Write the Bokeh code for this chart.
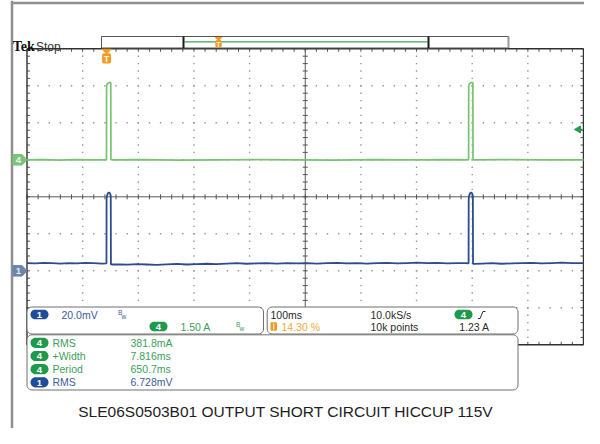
import math
from bokeh.plotting import figure
from bokeh.models import Range1d
from bokeh.core.properties import value
from bokeh.embed import file_html
from bokeh.resources import INLINE

# ---------------- data ----------------
TIME_PER_DIV_MS = 100.0
TRIGGER_POS_PCT = 14.30
CH4_A_PER_DIV = 1.50
CH1_MV_PER_DIV = 20.0
CH4_GND_DIV = 1.0
CH1_GND_DIV = -2.0
TRIG_LEVEL_A = 1.23

ch4_time_ms = [
    -143, -115, -85, -55, -25, -0.2,
    0.0, 0.6, 2.5, 5.0, 7.5,
    7.816, 9.0, 60, 130, 200, 270, 340, 410, 480, 550, 620, 650.5,
    650.7, 651.3, 653.2, 655.7, 658.2,
    658.5, 660, 720, 790, 857,
]
ch4_current_a = [
    0.00, 0.01, -0.01, 0.01, 0.00, 0.00,
    2.98, 3.05, 3.10, 3.14, 3.12,
    0.01, 0.00, 0.01, -0.01, 0.00, 0.01, 0.00, -0.01, 0.01, 0.00, 0.01, 0.00,
    2.98, 3.05, 3.10, 3.14, 3.12,
    0.01, 0.00, 0.01, 0.00, 0.00,
]

ch1_time_ms = [
    -143, -128, -113, -98, -83, -68, -53, -38, -23, -9, -0.2,
    0.0, 0.8, 2.5, 4.2, 6.0, 7.5,
    7.816, 9.0, 22, 38, 55, 72, 90, 108, 126, 144, 162,
    180, 198, 216, 234, 252, 270, 288, 306, 324, 342,
    360, 378, 396, 414, 432, 450, 468, 486, 504, 522,
    540, 558, 576, 594, 612, 630, 645, 650.5,
    650.7, 651.5, 653.2, 654.9, 656.7, 658.2,
    658.5, 660, 675, 692, 710, 728, 746, 764, 782, 800, 818, 836, 857,
]
ch1_voltage_mv = [
    4.2, 4.0, 4.3, 4.1, 3.9, 4.2, 4.0, 4.3, 4.1, 3.9, 4.0,
    38.8, 40.5, 42.0, 42.4, 42.0, 40.6,
    3.6, 3.4, 3.5, 3.3, 3.6, 3.4, 3.2, 3.5, 3.7, 3.4, 3.6,
    3.8, 3.6, 3.9, 4.1, 3.8, 4.0, 4.2, 3.9, 4.1, 4.0,
    4.2, 3.9, 4.1, 4.3, 4.0, 4.2, 3.9, 4.1, 4.3, 4.0,
    4.2, 4.4, 4.1, 4.3, 4.0, 4.2, 4.1, 4.0,
    38.8, 40.5, 42.0, 42.4, 42.0, 40.6,
    3.8, 3.7, 3.9, 4.1, 3.8, 4.0, 4.2, 4.3, 4.0, 4.2, 4.4, 4.1, 4.2,
]

ch1_scale_text = "20.0mV"
ch4_scale_text = "1.50 A"
timebase_text = "100ms"
trigger_pos_text = "14.30 %"
sample_rate_text = "10.0kS/s"
record_text = "10k points"
trigger_level_text = "1.23 A"
meas_channels = ["4", "4", "4", "1"]
meas_labels = ["RMS", "+Width", "Period", "RMS"]
meas_values = ["381.8mA", "7.816ms", "650.7ms", "6.728mV"]
caption = "SLE06S0503B01 OUTPUT SHORT CIRCUIT HICCUP 115V"

# ---------------- layout (pixels of the picture) ----------------
W, H = 584, 428
GL, GR, GT, GB = 26.5, 583.0, 48.3, 344.3
NX, NY = 10, 8

GREEN_TR = "#78c271"
BLUE_TR = "#2c4c8e"
GREEN_BADGE = "#1f9a4c"
BLUE_BADGE = "#1f4d9a"
GREEN_TXT = "#3c9e5c"
BLUE_TXT = "#3d5c9c"
ORANGE = "#f29b22"
FONT = "Liberation Sans"

t_left = -TRIGGER_POS_PCT / 100.0 * NX * TIME_PER_DIV_MS
t_right = t_left + NX * TIME_PER_DIV_MS
px_ms = (GR - GL) / (NX * TIME_PER_DIV_MS)
px_div = (GB - GT) / NY
x_start = t_left - GL / px_ms
x_end = t_right + (W - GR) / px_ms
y_end = NY / 2 + GT / px_div
y_start = -NY / 2 - (H - GB) / px_div


def X(t):
    return GL + (t - t_left) * px_ms


def Y(d):
    return GT + (NY / 2 - d) * px_div


p = figure(width=W, height=H, x_range=Range1d(x_start, x_end),
           y_range=Range1d(y_start, y_end), output_backend="svg",
           toolbar_location=None, x_axis_type=None, y_axis_type=None,
           min_border=0)
p.outline_line_color = None
p.background_fill_color = "white"
p.border_fill_color = "white"
p.extra_x_ranges = {"px": Range1d(0, W)}
p.extra_y_ranges = {
    "py": Range1d(H, 0),
    "ch4": Range1d((y_start - CH4_GND_DIV) * CH4_A_PER_DIV, (y_end - CH4_GND_DIV) * CH4_A_PER_DIV),
    "ch1": Range1d((y_start - CH1_GND_DIV) * CH1_MV_PER_DIV, (y_end - CH1_GND_DIV) * CH1_MV_PER_DIV),
}
P = dict(x_range_name="px", y_range_name="py")


def seg(x0, y0, x1, y1, color, lw=1.0):
    p.segment(x0=x0, y0=y0, x1=x1, y1=y1, line_color=color, line_width=lw, **P)


def rbox(l, r, t, b, fill, line=None, lw=1.0, radius=0.0, n=6):
    radius = min(radius, (r - l) / 2, (b - t) / 2)
    if radius <= 0:
        xs, ys = [l, r, r, l], [t, t, b, b]
    else:
        xs, ys = [], []
        corners = [(r - radius, t + radius, -90), (r - radius, b - radius, 0),
                   (l + radius, b - radius, 90), (l + radius, t + radius, 180)]
        for ccx, ccy, a0 in corners:
            for i in range(n + 1):
                a = math.radians(a0 + 90.0 * i / n)
                xs.append(ccx + radius * math.cos(a))
                ys.append(ccy + radius * math.sin(a))
    p.patch(x=xs, y=ys, fill_color=fill, line_color=line,
            line_width=lw if line else 0, **P)


def txt(x, y, s, color, size="10.5px", font=FONT, align="left",
        baseline="middle", style="normal"):
    p.text(x=[x], y=[y], text=[s], text_color=color, text_font=value(font),
           text_font_size=size, text_align=align, text_baseline=baseline,
           text_font_style=style, **P)


def badge(cx, cy, label, color, w=18.0, h=9.6):
    rbox(cx - w / 2, cx + w / 2, cy - h / 2, cy + h / 2, color, None, 0, radius=h / 2)
    txt(cx, cy + 0.3, label, "white", size="9.5px", align="center", style="bold")


# outer grey frame of the picture
seg([11.5, 11.5], [0, 2.5], [11.5, W], [H, 2.5], "#8f8f8f", 2.5)

# ---------------- graticule ----------------
dx, dy = [], []
for k in range(1, NX):
    if k == NX // 2:
        continue
    for j in range(NY * 5 + 1):
        dx.append(GL + k * (GR - GL) / NX)
        dy.append(GT + j * px_div / 5)
for m in range(1, NY):
    if m == NY // 2:
        continue
    for j in range(NX * 5 + 1):
        dx.append(GL + j * (GR - GL) / (NX * 5))
        dy.append(GT + m * px_div)
p.rect(x=dx, y=dy, width=1.4, height=1.4, fill_color="#959595", line_color=None, **P)

cx = (GL + GR) / 2
cy = (GT + GB) / 2
seg([GL, cx], [cy, GT], [GR, cx], [cy, GB], "#5a5a5a", 1.0)
# ticks on centre lines and on frame edges
tx0, ty0, tx1, ty1 = [], [], [], []
for j in range(NX * 5 + 1):
    xx = GL + j * (GR - GL) / (NX * 5)
    tx0 += [xx, xx, xx]; ty0 += [cy - 2.5, GT, GB]
    tx1 += [xx, xx, xx]; ty1 += [cy + 2.5, GT + 3, GB - 3]
for j in range(NY * 5 + 1):
    yy = GT + j * px_div / 5
    tx0 += [cx - 2.5, GL, GR]; ty0 += [yy, yy, yy]
    tx1 += [cx + 2.5, GL + 3, GR - 3]; ty1 += [yy, yy, yy]
seg(tx0, ty0, tx1, ty1, "#555555", 1.0)
seg([GL, GL, GR, GL], [GT, GT, GT, GB], [GR, GL, GR, GR], [GT, GB, GB, GB], "#303030", 1.4)

# ---------------- traces ----------------
p.line(ch4_time_ms, ch4_current_a, line_color=GREEN_TR, line_width=1.7,
       y_range_name="ch4")
p.line(ch1_time_ms, ch1_voltage_mv, line_color=BLUE_TR, line_width=1.8,
       y_range_name="ch1")

# trigger level arrow (right edge)
p.scatter(x=[GR - 5], y=[TRIG_LEVEL_A], marker="triangle", size=7,
          angle=math.pi / 2, fill_color="#2a9a4c", line_color="#2a9a4c",
          x_range_name="px", y_range_name="ch4")
p.segment(x0=[GR - 5], y0=[TRIG_LEVEL_A], x1=[GR - 1], y1=[TRIG_LEVEL_A],
          line_color="#2a9a4c", line_width=1.5, x_range_name="px", y_range_name="ch4")

# ground reference tags (left)
for gnd, fill, tcol, lab in [(CH4_GND_DIV, "#7cc47a", "#eef8ee", "4"),
                             (CH1_GND_DIV, "#6d84ab", "#e2e8f2", "1")]:
    c = Y(gnd)
    p.patch(x=[12.5, 21.5, 26.5, 21.5, 12.5], y=[c - 5.3, c - 5.3, c, c + 5.3, c + 5.3],
            fill_color=fill, line_color=fill, **P)
    txt(18.0, c + 0.4, lab, tcol, size="9.5px", align="center", style="bold")

# ---------------- header: Tek Stop + record bar ----------------
txt(12.3, 46.2, "Tek", "#111111", size="14px", font="Liberation Serif",
    baseline="alphabetic", style="bold")
txt(35.5, 46.0, "Stop", "#333333", size="12px", baseline="alphabetic")

BAR_L, BAR_R, BAR_T, BAR_B = 101.0, 508.0, 36.0, 47.5
WIN_L, WIN_R = 183.0, 428.0
rbox(BAR_L, BAR_R, BAR_T, BAR_B, "white", "#555555", 1.0)
seg([WIN_L + 1], [41.3], [WIN_R - 1], [41.3], "#3aa65a", 1.2)
seg([WIN_L, WIN_R], [BAR_T, BAR_T], [WIN_L, WIN_R], [BAR_B, BAR_B], "#1a1a1a", 2.0)
seg([BAR_R], [BAR_T], [BAR_R], [BAR_B], "#9a9a9a", 2.0)


def trig_marker(x, top, w, h, tri, fsize):
    p.patch(x=[x - w / 2, x + w / 2, x], y=[top, top, top + tri], fill_color=ORANGE,
            line_color=ORANGE, **P)
    rbox(x - w / 2, x + w / 2, top + tri - 0.5, top + tri + h, ORANGE, None, 0, radius=2)
    txt(x, top + tri + h / 2, "T", "white", size=fsize, align="center", style="bold")


trig_x = X(0.0)
trig_marker(trig_x, 48.8, 9.0, 9.8, 4.5, "8.5px")
trig_marker(WIN_L + TRIGGER_POS_PCT / 100.0 * (WIN_R - WIN_L), 37.0, 6.5, 7.0, 3.0, "6.5px")

# ---------------- info panels ----------------
PANEL_LINE = "#6e6e6e"
rbox(26.5, 263.0, 306.5, 333.5, "white", PANEL_LINE, 1.0, radius=5)
rbox(266.7, 517.5, 306.5, 333.5, "white", PANEL_LINE, 1.0, radius=5)
rbox(26.5, 517.5, 334.3, 389.5, "white", PANEL_LINE, 1.0, radius=5)

# channel panel
badge(39.0, 314.0, "1", BLUE_BADGE)
txt(61.0, 314.0, ch1_scale_text, BLUE_TXT)
txt(117.5, 311.5, "B", BLUE_TXT, size="6.5px")
txt(121.0, 315.5, "w", BLUE_TXT, size="6.5px")
badge(158.0, 326.0, "4", GREEN_BADGE)
txt(180.0, 326.0, ch4_scale_text, GREEN_TXT)
txt(235.5, 323.5, "B", GREEN_TXT, size="6.5px")
txt(239.0, 327.5, "w", GREEN_TXT, size="6.5px")

# timebase panel
txt(270.0, 314.0, timebase_text, "#2a2a2a")
rbox(270.0, 276.5, 321.8, 330.2, ORANGE, None, 0, radius=1)
seg([273.2], [323.0], [273.2], [329.0], "white", 1.0)
txt(281.0, 326.0, trigger_pos_text, "#f2a83a")
txt(370.0, 314.0, sample_rate_text, "#2a2a2a")
txt(370.0, 326.0, record_text, "#2a2a2a")
badge(463.0, 314.0, "4", GREEN_BADGE)
p.line(x=[477.5, 479.5, 482.5, 485.0], y=[318.0, 318.0, 311.0, 311.0],
       line_color="#2a2a2a", line_width=1.0, **P)
txt(489.0, 326.0, trigger_level_text, "#2a2a2a", align="right")

# measurement panel
row_y = [342.3, 355.5, 368.7, 381.8]
for ch, lab, val, yy in zip(meas_channels, meas_labels, meas_values, row_y):
    col_b = GREEN_BADGE if ch == "4" else BLUE_BADGE
    col_t = GREEN_TXT if ch == "4" else BLUE_TXT
    badge(39.0, yy, ch, col_b, h=10.2)
    txt(52.0, yy, lab, col_t)
    txt(130.0, yy, val, col_t)

# caption
txt(285.5, 411.0, caption, "#1e1e1e", size="15.5px", align="center")

open("out.html", "w").write(file_html(p, INLINE))
